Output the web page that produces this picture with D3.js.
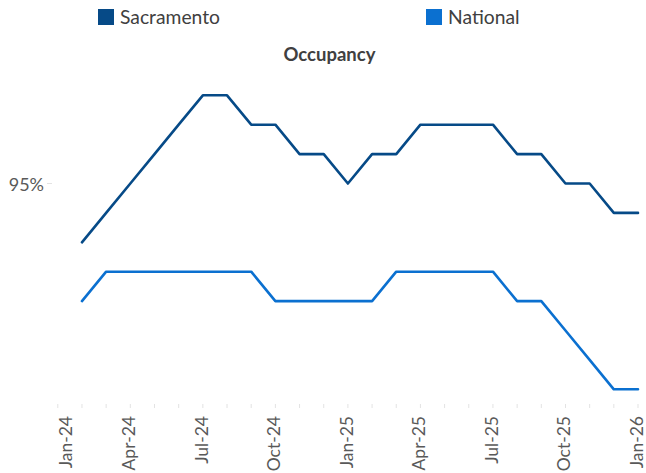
<!DOCTYPE html>
<html><head><meta charset="utf-8">
<script src="https://cdn.jsdelivr.net/npm/d3@7"></script>
<style>html,body{margin:0;padding:0;background:#fff;} svg{display:block;font-family:Lato,"Open Sans",sans-serif;}</style>
</head><body><svg id="c" width="646" height="473"></svg>
<script>
const categories = ["Jan-24","Feb-24","Mar-24","Apr-24","May-24","Jun-24","Jul-24","Aug-24","Sep-24","Oct-24","Nov-24","Dec-24",
  "Jan-25","Feb-25","Mar-25","Apr-25","May-25","Jun-25","Jul-25","Aug-25","Sep-25","Oct-25","Nov-25","Dec-25","Jan-26"];
const dataMonths = categories.slice(1);
const sacramento = [94.0,94.5,95.0,95.5,96.0,96.5,96.5,96.0,96.0,95.5,95.5,95.0,95.5,95.5,96.0,96.0,96.0,96.0,95.5,95.5,95.0,95.0,94.5,94.5];
const national   = [93.0,93.5,93.5,93.5,93.5,93.5,93.5,93.5,93.0,93.0,93.0,93.0,93.0,93.5,93.5,93.5,93.5,93.5,93.0,93.0,92.5,92.0,91.5,91.5];
const yTicks = [95];
const xLabels = ["Jan-24","Apr-24","Jul-24","Oct-24","Jan-25","Apr-25","Jul-25","Oct-25","Jan-26"];
const seriesNames = ["Sacramento","National"];
const colors = ["#064a87","#0b70d0"];

const svg = d3.select("#c");
const x = d3.scalePoint().domain(categories).range([57.8, 638]);
const y = d3.scaleLinear().domain([91, 97]).range([418.7, 65.9]);

// title
svg.append("text").attr("x", 329.5).attr("y", 61).attr("text-anchor","middle")
  .attr("font-weight","bold").attr("font-size", 18.5).attr("fill","#404040").text("Occupancy");

// legend
const legX = [98, 426];
seriesNames.forEach((n,i)=>{
  svg.append("rect").attr("x",legX[i]).attr("y",9).attr("width",16).attr("height",16).attr("fill",colors[i]);
  svg.append("text").attr("x",legX[i]+22).attr("y",24).attr("font-size",19.3).attr("fill","#404040").text(n);
});

// x ticks
svg.append("g").selectAll("line").data(categories).join("line")
  .attr("x1",d=>x(d)).attr("x2",d=>x(d)).attr("y1",404).attr("y2",408)
  .attr("stroke","#e3e3e3").attr("stroke-width",1);
svg.append("g").selectAll("text").data(xLabels).join("text")
  .attr("transform",d=>`translate(${Math.max(x(d),66.5)+5},416) rotate(-90)`)
  .attr("text-anchor","end").attr("font-size",17.5).attr("fill","#595959").text(d=>d);

// y axis
svg.append("g").selectAll("line").data(yTicks).join("line")
  .attr("x1",47).attr("x2",52).attr("y1",d=>y(d)).attr("y2",d=>y(d)).attr("stroke","#e3e3e3");
svg.append("g").selectAll("text").data(yTicks).join("text")
  .attr("x",44).attr("y",d=>y(d)+7).attr("text-anchor","end").attr("font-size",18).attr("fill","#595959")
  .text(d=>d+"%");

// lines
const line = d3.line().x((d,i)=>x(dataMonths[i])).y(d=>y(d));
[sacramento, national].forEach((s,i)=>{
  svg.append("path").datum(s).attr("d",line).attr("fill","none").attr("stroke",colors[i])
    .attr("stroke-width",2.6).attr("stroke-linejoin","round").attr("stroke-linecap","round");
});
</script></body></html>
